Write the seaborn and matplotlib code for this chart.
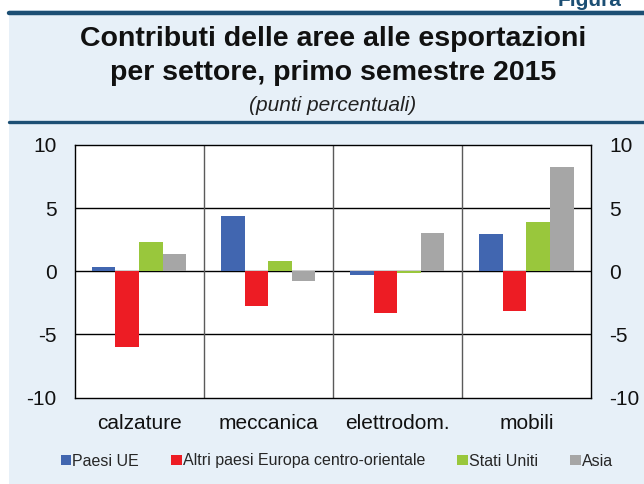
import matplotlib
matplotlib.use('Agg')
import matplotlib.pyplot as plt
from matplotlib.patches import Patch, Rectangle
from matplotlib.lines import Line2D
import seaborn as sns
import pandas as pd

# data (punti percentuali)
sectors = ['calzature', 'meccanica', 'elettrodom.', 'mobili']
areas = ['Paesi UE', 'Altri paesi Europa centro-orientale', 'Stati Uniti', 'Asia']
paesi_ue = [0.37, 4.36, -0.29, 2.95]
altri_europa = [-6.0, -2.74, -3.3, -3.14]
stati_uniti = [2.31, 0.8, -0.16, 3.94]
asia = [1.33, -0.74, 3.06, 8.27]
colors = ['#4166B0', '#ED1C24', '#99C73C', '#A6A6A6']

yticks = [-10, -5, 0, 5, 10]

bg = '#E7F0F8'
dark = '#1C4F74'

df = pd.DataFrame({
    'settore': sectors * 4,
    'area': [a for a in areas for _ in sectors],
    'valore': paesi_ue + altri_europa + stati_uniti + asia,
})

sns.set_theme(style='white')
plt.rcParams['font.family'] = ['Liberation Sans', 'DejaVu Sans']

W, H = 644, 484
fig = plt.figure(figsize=(W / 100, H / 100), dpi=100)
fig.patch.set_facecolor('white')

# light blue panel and dark rules
panel = Rectangle((9 / W, 0), 1, 1 - 10 / H, transform=fig.transFigure,
                  facecolor=bg, edgecolor='none', zorder=-10)
fig.add_artist(panel)
fig.add_artist(Line2D([9 / W, 1], [1 - 12.5 / H] * 2, color=dark, lw=3.2, zorder=-5))
fig.add_artist(Line2D([9 / W, 1], [1 - 121.5 / H] * 2, color=dark, lw=2.4, zorder=-5))

# page label, cropped at the top edge as in the source
fig.text(558 / W, 1 - 6 / H, 'Figura', fontsize=15, fontweight='bold',
         color='#1C4F74', ha='left', va='baseline')

fig.text(333 / W, 1 - 46 / H, 'Contributi delle aree alle esportazioni',
         fontsize=20.5, fontweight='bold', ha='center', va='baseline', color='#111111')
fig.text(333 / W, 1 - 80 / H, 'per settore, primo semestre 2015',
         fontsize=20.5, fontweight='bold', ha='center', va='baseline', color='#111111')
fig.text(333 / W, 1 - 111 / H, '(punti percentuali)',
         fontsize=15, fontstyle='italic', ha='center', va='baseline', color='#222222')

ax = fig.add_axes([74.5 / W, 1 - 397.5 / H, (591 - 74.5) / W, (397.5 - 145) / H])
ax.set_facecolor('white')

sns.barplot(data=df, x='settore', y='valore', hue='area', hue_order=areas,
            order=sectors, palette=colors, saturation=1, width=0.73, gap=0, ax=ax,
            linewidth=0, legend=False, zorder=3)

ax.set_ylim(-10, 10)
ax.set_xlim(-0.5, len(sectors) - 0.5)
ax.set_yticks(yticks)
ax.set_yticklabels([str(t) for t in yticks])
ax.set_xlabel('')
ax.set_ylabel('')

for t in [-5, 0, 5]:
    ax.axhline(t, color='black', lw=1, zorder=2)
for i in range(1, len(sectors)):
    ax.axvline(i - 0.5, color='#5a5a5a', lw=1, zorder=2)

for s in ax.spines.values():
    s.set_visible(True)
    s.set_color('black')
    s.set_linewidth(1)

ax.tick_params(axis='y', length=0, pad=13, labelsize=15, labelright=True,
               labelleft=True, colors='#111111')
ax.tick_params(axis='x', length=0, pad=12, labelsize=15, colors='#111111')

handles = [Patch(facecolor=c, edgecolor='none', label=a) for c, a in zip(colors, areas)]
fig.legend(handles=handles, loc='center', bbox_to_anchor=(337 / W, 1 - 461 / H),
           ncol=4, frameon=False, fontsize=11.5, handlelength=0.65,
           handleheight=0.65, handletextpad=0.1, columnspacing=2.0,
           borderpad=0, borderaxespad=0)

fig.savefig('out.png', dpi=100, facecolor=fig.get_facecolor())
